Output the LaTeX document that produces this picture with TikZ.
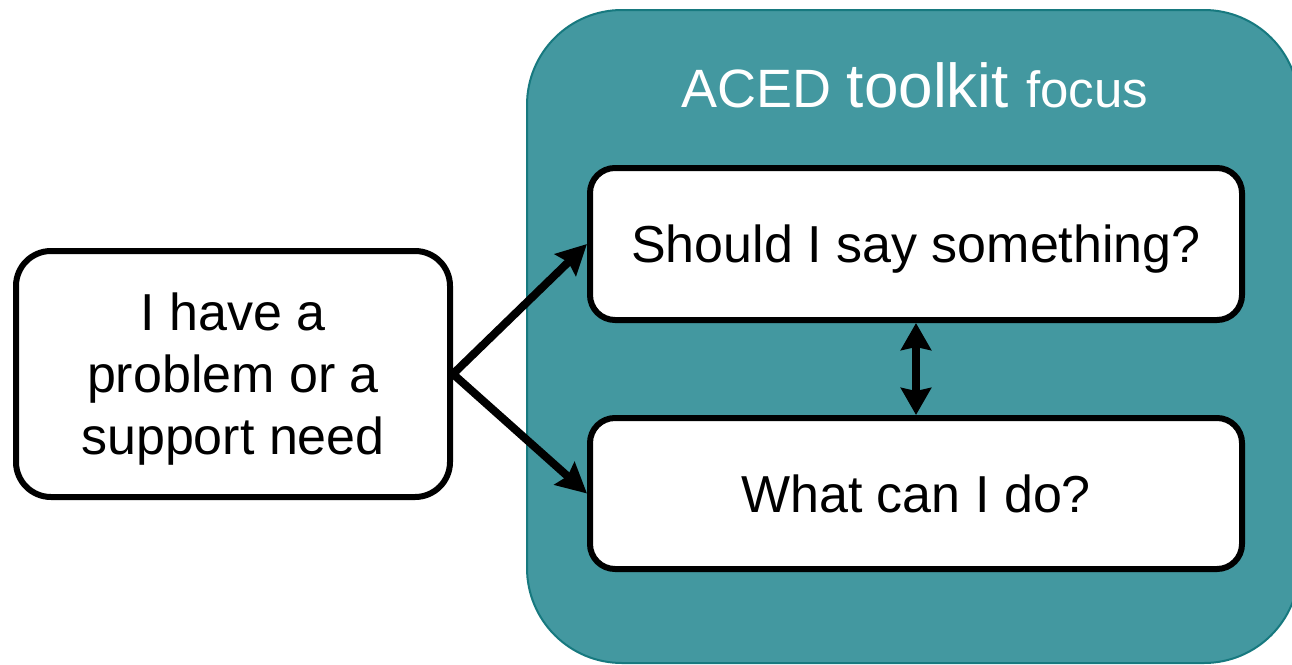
\documentclass[tikz,border=0pt]{standalone}
\usepackage{fontspec}
\setmainfont{Liberation Sans}
\usetikzlibrary{arrows.meta}
\definecolor{tealfill}{HTML}{4398A0}
\definecolor{tealline}{HTML}{17797F}
\tikzset{
  whitebox/.style={draw=black, line width=6pt, fill=white, rectangle, align=center, inner sep=0pt, text depth=0pt},
  conn/.style={line width=8pt, -{Stealth[length=30pt,width=30pt,inset=4pt]}},
  dconn/.style={line width=8pt, {Stealth[length=27pt,width=30pt,inset=3pt]}-{Stealth[length=27pt,width=30pt,inset=3pt]}},
  txt/.style={font=\fontsize{52}{62}\selectfont}
}
\begin{document}
\begin{tikzpicture}[x=1pt,y=-1pt]
\useasboundingbox (0,0) rectangle (1292,664);
\clip (0,0) rectangle (1292,664);
\fill[white] (0,0) rectangle (1292,664);
\draw[fill=tealfill, draw=tealline, line width=2pt, rounded corners=95pt] (527,10) rectangle (1299,663);
\node[anchor=base, text=white, inner sep=0pt] (title) at (915,107)
  {\fontsize{54}{60}\selectfont ACED \fontsize{62}{70}\selectfont toolkit \fontsize{51}{58}\selectfont focus};
\node[whitebox, txt, rounded corners=35pt, minimum width=434pt, minimum height=246pt] (need) at (233,374)
  {I have a\\problem or a\\support need};
\node[whitebox, txt, rounded corners=25pt, minimum width=652pt, minimum height=152pt] (should) at (916,244)
  {Should I say something?};
\node[whitebox, txt, rounded corners=25pt, minimum width=652pt, minimum height=151pt] (what) at (916,493.5)
  {What can I do?};
\draw[conn] (need.east) -- (should.west);
\draw[conn] (need.east) -- (what.west);
\draw[dconn] (should.south) -- (what.north);
\end{tikzpicture}
\end{document}
